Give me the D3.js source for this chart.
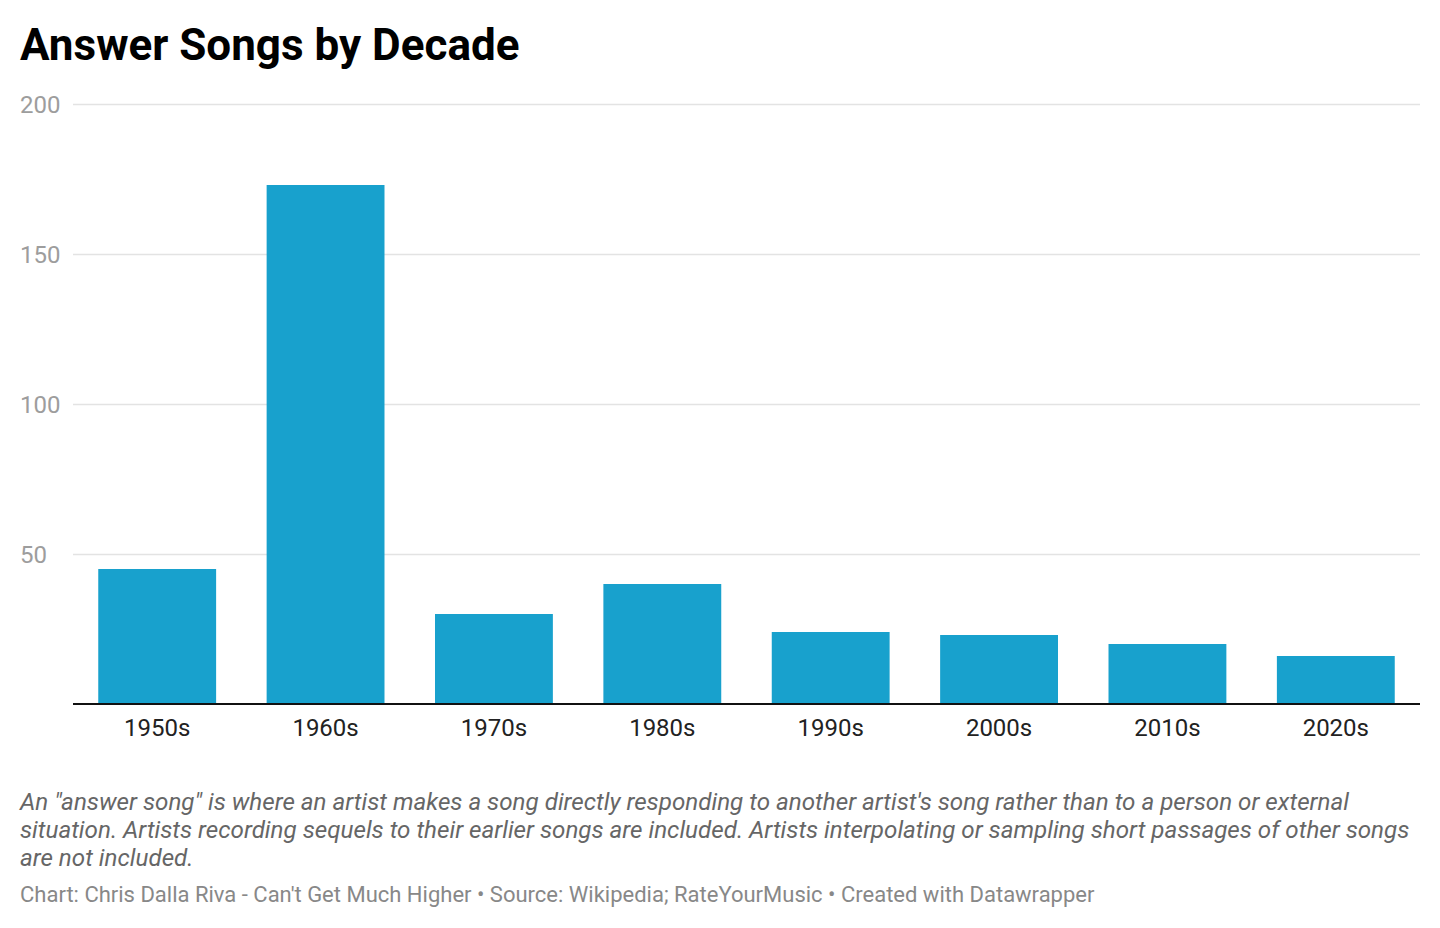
<!DOCTYPE html>
<html>
<head>
<meta charset="utf-8">
<script src="https://cdn.jsdelivr.net/npm/d3@7"></script>
<style>
  body { margin: 0; background: #fff; font-family: Roboto, sans-serif; }
</style>
</head>
<body>
<svg id="chart" width="1440" height="928"></svg>
<script>
const decades = ["1950s", "1960s", "1970s", "1980s", "1990s", "2000s", "2010s", "2020s"];
const songs = [45, 173, 30, 40, 24, 23, 20, 16];
const yTicks = [0, 50, 100, 150, 200];

const svg = d3.select("#chart");
const plotLeft = 73, plotRight = 1420, plotTop = 104, plotBottom = 704;

const x = d3.scaleBand().domain(decades).range([plotLeft, plotRight]).paddingInner(0.3).paddingOuter(0.15);
const y = d3.scaleLinear().domain([0, 200]).range([plotBottom, plotTop]);

svg.append("text")
    .attr("x", 20).attr("y", 60)
    .attr("font-size", 44).attr("font-weight", 700).attr("fill", "#000")
    .text("Answer Songs by Decade");

// grid
const yAxis = svg.append("g")
    .attr("transform", `translate(${plotRight},0)`)
    .call(d3.axisLeft(y).tickValues(yTicks.filter(d => d > 0)).tickSize(plotRight - plotLeft).tickFormat(d3.format("d")));
yAxis.select(".domain").remove();
yAxis.selectAll(".tick line").attr("stroke", "#e3e3e3").attr("stroke-width", 1.5);
yAxis.selectAll(".tick text")
    .attr("x", -(plotRight - 20)).attr("dy", "0.35em")
    .attr("text-anchor", "start")
    .attr("font-family", "Roboto").attr("font-size", 24).attr("fill", "#9d9d9d");

svg.append("g").selectAll("rect")
    .data(decades)
    .join("rect")
    .attr("x", d => x(d))
    .attr("width", x.bandwidth())
    .attr("y", (d, i) => y(songs[i]))
    .attr("height", (d, i) => y(0) - y(songs[i]))
    .attr("fill", "#18a1cd");

const xAxis = svg.append("g")
    .attr("transform", `translate(0,${plotBottom})`)
    .call(d3.axisBottom(x).tickSize(0).tickPadding(15));
xAxis.select(".domain").attr("stroke", "#111").attr("stroke-width", 2).attr("d", `M${plotLeft},0H${plotRight}`);
xAxis.selectAll(".tick text")
    .attr("font-family", "Roboto").attr("font-size", 24).attr("fill", "#222");

const notes = [
  "An \"answer song\" is where an artist makes a song directly responding to another artist's song rather than to a person or external",
  "situation. Artists recording sequels to their earlier songs are included. Artists interpolating or sampling short passages of other songs",
  "are not included."
];
svg.append("g").selectAll("text")
    .data(notes)
    .join("text")
    .attr("x", 20).attr("y", (d, i) => 810 + i * 28)
    .attr("font-size", 24.2).attr("font-style", "italic").attr("fill", "#666")
    .text(d => d);

svg.append("text")
    .attr("x", 20).attr("y", 902)
    .attr("font-size", 22).attr("fill", "#888")
    .text("Chart: Chris Dalla Riva - Can't Get Much Higher \u2022 Source: Wikipedia; RateYourMusic \u2022 Created with Datawrapper");
</script>
</body>
</html>
